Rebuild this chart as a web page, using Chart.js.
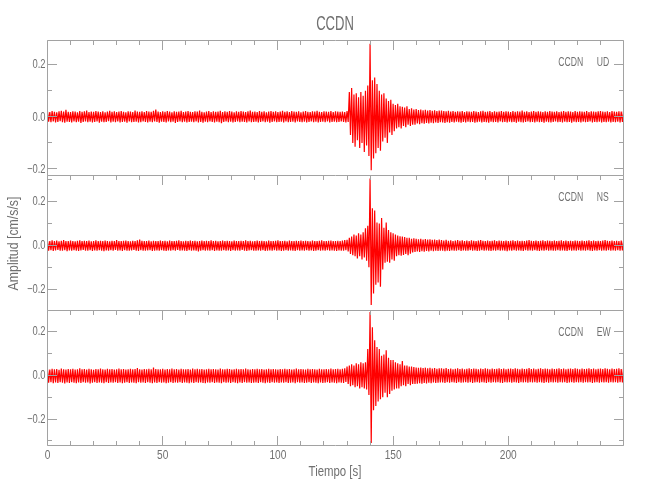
<!DOCTYPE html>
<html><head><meta charset="utf-8">
<script src="https://cdn.jsdelivr.net/npm/chart.js@4.4.1/dist/chart.umd.min.js"></script>
<style>html,body{margin:0;padding:0;background:#fff}canvas{display:block}</style>
</head><body>
<canvas id="c" width="650" height="500"></canvas>
<script>
// ---------- data (cm/s/s), one upper and one lower envelope value per second, t = 0..250 s ----------
const station = 'CCDN';
const components = ['UD', 'NS', 'EW'];
const xTickLabels = ['0', '50', '100', '150', '200'];
const yTickLabels = ['-0.2', '0.0', '0.2'];
const seconds = Array.from({length: 251}, (_, i) => i);

const udUpper = [
.020,.018,.022,.019,.017,.021,.023,.020,.027,.019,
.018,.021,.020,.017,.022,.019,.021,.024,.018,.020,
.019,.022,.020,.018,.021,.017,.020,.023,.019,.021,
.018,.020,.022,.019,.017,.021,.020,.018,.024,.020,
.019,.021,.018,.022,.020,.019,.023,.028,.020,.018,
.021,.019,.022,.020,.017,.021,.019,.020,.023,.018,
.020,.022,.019,.018,.021,.020,.024,.019,.017,.020,
.022,.018,.021,.019,.020,.023,.018,.021,.019,.022,
.020,.017,.021,.019,.022,.020,.018,.021,.024,.019,
.020,.018,.022,.019,.021,.017,.020,.022,.019,.021,
.018,.020,.023,.019,.021,.018,.022,.020,.019,.021,
.017,.020,.022,.019,.018,.021,.020,.023,.019,.018,
.021,.020,.019,.022,.018,.021,.020,.019,
.020,.018,.022,.095,.110,.085,.090,.075,.095,.080,
.100,.120,.280,.140,.150,.125,.100,.085,.090,.070,
.060,.065,.050,.045,.050,.040,.038,.035,.040,.030,
.032,.028,.030,.026,.028,.025,.027,.024,.026,.023,
.025,.022,.024,
.024,.022,.021,.023,.020,.022,.019,.021,.020,.022,
.018,.021,.020,.019,.022,.020,.018,.021,.023,.019,
.020,.022,.018,.021,.019,.020,.022,.019,.021,.020,
.018,.022,.019,.021,.020,.024,.019,.021,.018,.020,
.022,.019,.021,.020,.018,.021,.019,.022,.020,.019,
.021,.018,.020,.022,.019,.021,.020,.018,.022,.019,
.021,.020,.019,.022,.018,.021,.020,.019,.021,.022,
.020,.019,.021,.018,.022,.020,.019,.021,.020,.022];

const udLower = [
-.019,-.021,-.018,-.022,-.020,-.017,-.021,-.023,-.019,-.020,
-.022,-.018,-.021,-.019,-.024,-.020,-.018,-.021,-.019,-.022,
-.020,-.018,-.023,-.019,-.021,-.020,-.017,-.022,-.019,-.021,
-.018,-.022,-.020,-.019,-.023,-.018,-.021,-.020,-.019,-.022,
-.021,-.018,-.020,-.022,-.019,-.021,-.018,-.020,-.023,-.019,
-.020,-.022,-.018,-.021,-.019,-.024,-.020,-.018,-.021,-.019,
-.022,-.020,-.019,-.021,-.018,-.022,-.020,-.023,-.019,-.021,
-.018,-.020,-.022,-.019,-.021,-.025,-.020,-.018,-.021,-.019,
-.022,-.020,-.018,-.021,-.019,-.020,-.022,-.018,-.021,-.020,
-.019,-.022,-.020,-.018,-.021,-.019,-.023,-.020,-.018,-.021,
-.020,-.019,-.022,-.018,-.021,-.020,-.019,-.022,-.018,-.020,
-.021,-.019,-.022,-.020,-.018,-.021,-.019,-.022,-.020,-.019,
-.021,-.018,-.022,-.020,-.019,-.021,-.020,-.018,
-.020,-.022,-.020,-.070,-.100,-.115,-.090,-.120,-.100,-.135,
-.110,-.150,-.205,-.160,-.140,-.120,-.130,-.095,-.080,-.100,
-.060,-.070,-.055,-.045,-.040,-.045,-.035,-.040,-.030,-.035,
-.030,-.030,-.026,-.028,-.025,-.027,-.024,-.026,-.023,-.025,
-.022,-.024,-.021,
-.022,-.024,-.021,-.023,-.020,-.022,-.019,-.021,-.023,-.020,
-.022,-.019,-.021,-.020,-.023,-.021,-.019,-.022,-.020,-.021,
-.023,-.019,-.021,-.020,-.022,-.018,-.021,-.020,-.022,-.019,
-.021,-.020,-.023,-.019,-.021,-.022,-.020,-.018,-.021,-.020,
-.022,-.019,-.021,-.020,-.023,-.019,-.021,-.022,-.020,-.018,
-.021,-.020,-.022,-.019,-.021,-.020,-.023,-.019,-.021,-.020,
-.022,-.019,-.021,-.020,-.018,-.022,-.020,-.021,-.019,-.022,
-.020,-.021,-.019,-.022,-.020,-.021,-.019,-.022,-.020,-.021];

const nsUpper = [
.021,.019,.023,.020,.022,.018,.021,.024,.020,.019,
.022,.020,.018,.021,.023,.019,.021,.020,.022,.018,
.020,.023,.019,.021,.020,.022,.019,.018,.021,.020,
.024,.020,.019,.021,.022,.020,.018,.021,.019,.023,
.027,.021,.019,.020,.022,.018,.021,.020,.019,.022,
.020,.021,.018,.022,.020,.019,.021,.023,.020,.018,
.021,.019,.022,.020,.021,.018,.020,.022,.019,.021,
.020,.023,.019,.021,.018,.020,.022,.019,.021,.020,
.018,.022,.020,.019,.021,.020,.023,.019,.021,.018,
.020,.022,.019,.021,.020,.018,.022,.020,.019,.021,
.023,.020,.019,.021,.018,.022,.020,.019,.021,.020,
.022,.019,.021,.020,.018,.022,.020,.019,.021,.023,
.020,.019,.021,.022,.020,.019,.021,.020,
.022,.024,.025,.035,.040,.050,.045,.055,.050,.060,
.078,.090,.306,.170,.160,.105,.100,.125,.080,.105,
.070,.060,.055,.050,.045,.042,.040,.038,.035,.035,
.030,.032,.030,.028,.030,.027,.029,.026,.028,.025,
.027,.024,.026,
.024,.022,.025,.021,.023,.020,.022,.024,.021,.023,
.020,.022,.019,.023,.021,.020,.022,.024,.021,.020,
.022,.019,.021,.023,.020,.022,.021,.019,.022,.020,
.021,.023,.020,.022,.019,.021,.020,.022,.024,.021,
.020,.022,.019,.021,.023,.020,.022,.021,.019,.022,
.020,.021,.023,.020,.022,.019,.021,.020,.022,.021,
.019,.022,.020,.021,.023,.020,.022,.019,.021,.020,
.022,.024,.021,.020,.022,.019,.021,.020,.022,.021];

const nsLower = [
-.024,-.022,-.026,-.023,-.021,-.025,-.024,-.022,-.027,-.023,
-.025,-.022,-.024,-.026,-.023,-.021,-.025,-.024,-.022,-.026,
-.023,-.025,-.022,-.024,-.027,-.023,-.025,-.022,-.024,-.021,
-.025,-.023,-.026,-.022,-.024,-.025,-.023,-.021,-.024,-.026,
-.022,-.024,-.025,-.023,-.022,-.026,-.024,-.023,-.025,-.022,
-.024,-.026,-.023,-.025,-.022,-.024,-.021,-.025,-.023,-.024,
-.026,-.022,-.024,-.023,-.025,-.028,-.024,-.022,-.025,-.023,
-.024,-.022,-.026,-.023,-.025,-.024,-.022,-.025,-.023,-.026,
-.022,-.024,-.023,-.025,-.021,-.024,-.026,-.023,-.022,-.025,
-.024,-.023,-.025,-.022,-.026,-.024,-.023,-.025,-.022,-.024,
-.023,-.026,-.024,-.022,-.025,-.023,-.024,-.026,-.022,-.025,
-.023,-.024,-.022,-.025,-.023,-.026,-.024,-.022,-.025,-.023,
-.024,-.022,-.025,-.023,-.024,-.026,-.023,-.024,
-.024,-.022,-.028,-.040,-.045,-.050,-.060,-.050,-.065,-.055,
-.070,-.100,-.273,-.220,-.180,-.170,-.190,-.110,-.080,-.075,
-.080,-.065,-.070,-.050,-.045,-.048,-.044,-.040,-.045,-.038,
-.032,-.030,-.028,-.030,-.027,-.029,-.026,-.028,-.025,-.027,
-.024,-.026,-.025,
-.025,-.027,-.024,-.026,-.023,-.025,-.024,-.022,-.026,-.023,
-.025,-.024,-.022,-.025,-.023,-.026,-.024,-.022,-.025,-.023,
-.024,-.026,-.023,-.025,-.022,-.024,-.023,-.025,-.027,-.023,
-.024,-.022,-.025,-.023,-.024,-.026,-.022,-.024,-.023,-.025,
-.022,-.024,-.026,-.023,-.025,-.022,-.024,-.023,-.025,-.024,
-.022,-.025,-.023,-.024,-.026,-.022,-.024,-.023,-.025,-.022,
-.024,-.023,-.025,-.022,-.024,-.026,-.023,-.025,-.022,-.024,
-.023,-.025,-.022,-.024,-.023,-.025,-.022,-.024,-.023,-.025];

const ewUpper = [
.028,.026,.030,.027,.029,.025,.031,.028,.026,.029,
.027,.030,.026,.028,.032,.027,.029,.026,.030,.028,
.025,.029,.027,.031,.028,.026,.030,.027,.029,.026,
.028,.031,.027,.029,.026,.028,.030,.027,.029,.033,
.028,.026,.029,.027,.030,.028,.036,.029,.027,.028,
.030,.026,.029,.028,.031,.027,.029,.026,.030,.028,
.027,.029,.026,.031,.028,.030,.027,.029,.026,.028,
.030,.027,.029,.028,.026,.031,.028,.027,.030,.029,
.026,.028,.030,.027,.029,.028,.031,.027,.026,.029,
.028,.030,.027,.029,.026,.028,.030,.027,.029,.028,
.026,.029,.028,.030,.027,.029,.026,.028,.031,.027,
.029,.028,.026,.030,.027,.029,.028,.026,.030,.028,
.027,.029,.028,.031,.027,.029,.030,.028,
.030,.032,.040,.045,.050,.045,.055,.050,.060,.055,
.060,.120,.290,.220,.160,.130,.120,.090,.095,.115,
.080,.070,.070,.060,.055,.050,.065,.045,.045,.040,
.040,.038,.036,.034,.036,.033,.035,.032,.034,.031,
.033,.030,.032,
.032,.030,.033,.029,.031,.028,.030,.032,.029,.031,
.028,.030,.032,.029,.031,.030,.028,.031,.029,.032,
.030,.028,.031,.029,.030,.032,.029,.031,.028,.030,
.031,.029,.032,.030,.028,.031,.029,.030,.033,.029,
.031,.028,.030,.032,.029,.031,.030,.028,.031,.029,
.030,.032,.029,.031,.028,.030,.031,.029,.032,.030,
.028,.031,.029,.030,.032,.029,.031,.028,.030,.031,
.029,.032,.030,.028,.031,.029,.030,.032,.029,.031];

const ewLower = [
-.034,-.032,-.036,-.033,-.035,-.031,-.034,-.037,-.033,-.035,
-.032,-.034,-.036,-.033,-.035,-.032,-.034,-.033,-.037,-.034,
-.032,-.035,-.033,-.034,-.036,-.032,-.035,-.033,-.034,-.031,
-.035,-.033,-.036,-.034,-.032,-.035,-.033,-.034,-.036,-.032,
-.034,-.033,-.035,-.032,-.034,-.036,-.033,-.035,-.032,-.034,
-.033,-.036,-.034,-.032,-.035,-.033,-.034,-.031,-.035,-.033,
-.034,-.036,-.033,-.035,-.032,-.034,-.033,-.035,-.036,-.033,
-.034,-.032,-.035,-.033,-.034,-.036,-.032,-.034,-.033,-.035,
-.032,-.034,-.036,-.033,-.035,-.032,-.034,-.033,-.035,-.034,
-.033,-.035,-.032,-.034,-.036,-.033,-.035,-.032,-.034,-.033,
-.035,-.033,-.034,-.032,-.035,-.034,-.033,-.036,-.032,-.034,
-.033,-.035,-.034,-.032,-.035,-.033,-.034,-.036,-.033,-.035,
-.034,-.032,-.035,-.033,-.034,-.036,-.033,-.034,
-.035,-.030,-.040,-.050,-.045,-.055,-.050,-.060,-.055,-.060,
-.065,-.090,-.310,-.160,-.140,-.120,-.110,-.100,-.080,-.100,
-.085,-.070,-.065,-.060,-.060,-.050,-.045,-.050,-.040,-.045,
-.040,-.040,-.038,-.036,-.038,-.035,-.037,-.034,-.036,-.033,
-.035,-.034,-.033,
-.033,-.035,-.032,-.034,-.031,-.033,-.035,-.032,-.034,-.033,
-.031,-.034,-.032,-.035,-.033,-.031,-.034,-.032,-.033,-.035,
-.032,-.034,-.031,-.033,-.032,-.034,-.035,-.032,-.033,-.031,
-.034,-.032,-.033,-.035,-.031,-.033,-.032,-.034,-.032,-.033,
-.031,-.034,-.032,-.033,-.035,-.032,-.034,-.031,-.033,-.032,
-.034,-.031,-.033,-.032,-.035,-.033,-.031,-.034,-.032,-.033,
-.032,-.034,-.031,-.033,-.032,-.035,-.033,-.031,-.034,-.032,
-.033,-.032,-.034,-.031,-.033,-.032,-.034,-.031,-.033,-.032];

// ---------- presentation ----------
const yMin = {yUD: -0.223, yNS: -0.296, yEW: -0.319};
const yMax = {yUD: 0.294, yNS: 0.322, yEW: 0.299};
const AXIS = '#a2a2a2', TEXT = '#707070', RED = '#ff0000';
const FONT = '"Liberation Sans", Arimo, sans-serif';
const ids = ['yUD', 'yNS', 'yEW'];
const envelopes = {yUD: [udUpper, udLower], yNS: [nsUpper, nsLower], yEW: [ewUpper, ewLower]};

function trace(upper, lower) {
  const pts = [];
  for (let i = 0; i < seconds.length; i++) {
    pts.push({x: seconds[i], y: upper[i]});
    pts.push({x: seconds[i] + 0.5, y: lower[i]});
  }
  return pts;
}

const fmtY = v => {
  const s = (Math.abs(v) < 1e-9 ? 0 : v).toFixed(1);
  return yTickLabels.includes(s) ? s.replace('-', '\u2212') : '';
};
const fmtX = v => xTickLabels.includes(String(Math.round(v))) ? String(Math.round(v)) : '';

const scales = {
  x: {
    type: 'linear', position: 'bottom', min: 0, max: 249.99,
    grid: {display: false, drawTicks: false}, border: {display: false},
    ticks: {display: false, stepSize: 10, autoSkip: false, includeBounds: false, callback: fmtX},
    afterFit: s => { s.height = 55; }
  }
};
// stacked scales are laid out from the bottom up, so define them bottom first
['yEW', 'yNS', 'yUD'].forEach(id => {
  scales[id] = {
    type: 'linear', position: 'left', stack: 'panels', stackWeight: 1,
    min: yMin[id], max: yMax[id],
    grid: {display: false, drawTicks: false}, border: {display: false},
    ticks: {display: false, stepSize: 0.1, includeBounds: false, autoSkip: false, callback: fmtY},
    afterFit: s => { s.width = 47.5; }
  };
});

function scaledText(ctx, str, x, y, sx, align, baseline) {
  ctx.save();
  ctx.translate(x, y);
  ctx.scale(sx, 1);
  ctx.textAlign = align;
  ctx.textBaseline = baseline || 'alphabetic';
  ctx.fillText(str, 0, 0);
  ctx.restore();
}

const framePlugin = {
  id: 'frames',
  afterDraw(chart) {
    const ctx = chart.ctx, xs = chart.scales.x;
    const L = Math.floor(xs.left) + 0.5, R = Math.floor(xs.right) + 0.5;
    const bottomMost = Math.max(...ids.map(id => chart.scales[id].bottom));
    ctx.save();
    ctx.strokeStyle = AXIS; ctx.lineWidth = 1;
    ctx.fillStyle = TEXT;
    ids.forEach((id, k) => {
      const ys = chart.scales[id];
      const T = Math.floor(ys.top) + 0.5, B = Math.floor(ys.bottom) + 0.5;
      const last = ys.bottom === bottomMost;
      ctx.beginPath();
      ctx.moveTo(L, B); ctx.lineTo(L, T); ctx.lineTo(R, T); ctx.lineTo(R, B);
      if (last) ctx.lineTo(L, B);
      ys.ticks.forEach(t => {
        const p = Math.floor(ys.getPixelForValue(t.value)) + 0.5;
        const major = Math.abs(t.value * 5 - Math.round(t.value * 5)) < 1e-6;
        const len = major ? 9.5 : 4.5;
        ctx.moveTo(L, p); ctx.lineTo(L + len, p);
        ctx.moveTo(R, p); ctx.lineTo(R - len, p);
      });
      xs.ticks.forEach(t => {
        const p = Math.floor(xs.getPixelForValue(t.value)) + 0.5;
        const len = (Math.round(t.value) % 50 === 0) ? 9.5 : 4.5;
        ctx.moveTo(p, T); ctx.lineTo(p, T + len);
        if (last) { ctx.moveTo(p, B); ctx.lineTo(p, B - len); }
      });
      ctx.stroke();
      // y tick labels
      ctx.font = '12.5px ' + FONT;
      ys.ticks.forEach(t => {
        const lab = fmtY(t.value);
        if (lab) scaledText(ctx, lab, L - 2, ys.getPixelForValue(t.value) + 0.3, 0.75, 'right', 'middle');
      });
      // x tick labels under the bottom panel
      if (last) {
        ctx.font = '13px ' + FONT;
        xs.ticks.forEach(t => {
          const lab = fmtX(t.value);
          if (lab) scaledText(ctx, lab, xs.getPixelForValue(t.value), B + 13.3, 0.78, 'center');
        });
      }
      // component label
      ctx.font = '12.5px ' + FONT;
      scaledText(ctx, station, 558.3, ys.top + 26, 0.69, 'left');
      scaledText(ctx, components[k], 596.7, ys.top + 26, 0.69, 'left');
    });
    // title and axis titles
    ctx.font = '19.5px ' + FONT;
    scaledText(ctx, station, (xs.left + xs.right) / 2 - 0.5, 30, 0.67, 'center');
    ctx.font = '14px ' + FONT;
    scaledText(ctx, 'Tiempo [s]', (xs.left + xs.right) / 2 - 0.5, 476, 0.815, 'center');
    const mid = chart.scales.yNS;
    ctx.save();
    ctx.translate(18, (mid.top + mid.bottom) / 2 + 1);
    ctx.rotate(-Math.PI / 2);
    ctx.scale(0.88, 1);
    ctx.textAlign = 'center';
    ctx.textBaseline = 'alphabetic';
    ctx.fillText('Amplitud [cm/s/s]', 0, 0);
    ctx.restore();
    ctx.restore();
  }
};

new Chart(document.getElementById('c'), {
  type: 'line',
  data: {
    datasets: ids.map((id, k) => ({
      label: station + ' ' + components[k],
      yAxisID: id, xAxisID: 'x',
      data: trace(envelopes[id][0], envelopes[id][1]),
      borderColor: RED, borderWidth: 1.2, borderJoinStyle: 'bevel', borderCapStyle: 'butt',
      pointRadius: 0, tension: 0, fill: false
    }))
  },
  options: {
    responsive: false, animation: false, devicePixelRatio: 1,
    parsing: false, normalized: true, events: [],
    layout: {padding: {top: 40, left: 0, right: 26.5, bottom: 0}},
    plugins: {legend: {display: false}, tooltip: {enabled: false}, title: {display: false}},
    scales
  },
  plugins: [framePlugin]
});
</script>
</body></html>
